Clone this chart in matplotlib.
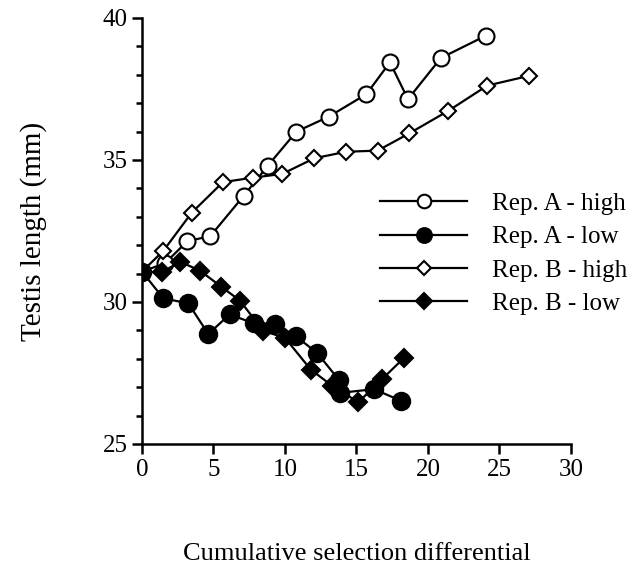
import matplotlib.pyplot as plt
from matplotlib.ticker import MultipleLocator

plt.rcParams['font.family'] = ['Liberation Serif', 'DejaVu Serif']

# Rep. A - high (open circles)
a_high_x = [0, 1.6, 3.17, 4.78, 7.1, 8.8, 10.8, 13.08, 15.7, 17.34, 18.6, 20.9, 24.06]
a_high_y = [31.07, 31.36, 32.14, 32.32, 33.73, 34.8, 36.0, 36.53, 37.32, 38.44, 37.14, 38.59, 39.38]

# Rep. A - low (filled circles)
a_low_x = [0, 1.49, 3.24, 4.64, 6.12, 7.82, 9.3, 10.74, 12.24, 13.8, 13.85, 16.22, 18.12]
a_low_y = [31.07, 30.13, 29.95, 28.87, 29.56, 29.25, 29.23, 28.8, 28.21, 27.24, 26.8, 26.93, 26.52]

# Rep. B - high (open diamonds)
b_high_x = [0, 1.49, 3.47, 5.66, 7.79, 9.81, 12.05, 14.27, 16.48, 18.7, 21.42, 24.15, 27.04]
b_high_y = [31.07, 31.8, 33.14, 34.22, 34.38, 34.51, 35.06, 35.29, 35.33, 35.94, 36.73, 37.62, 37.96]

# Rep. B - low (filled diamonds)
b_low_x = [0, 1.37, 2.66, 4.06, 5.54, 6.85, 8.48, 10.0, 11.8, 13.3, 15.13, 16.78, 18.3]
b_low_y = [31.07, 31.04, 31.42, 31.1, 30.54, 30.05, 28.98, 28.74, 27.62, 27.05, 26.47, 27.28, 28.02]

fig = plt.figure(figsize=(6.44, 5.69), dpi=100)
ax = fig.add_axes([0.2205, 0.2197, 0.6661, 0.7487])

lw = 1.6
ax.plot(a_high_x, a_high_y, color='black', lw=lw, marker='o', ms=11.5,
        mfc='white', mec='black', mew=1.5, label='Rep. A - high', zorder=3)
ax.plot(a_low_x, a_low_y, color='black', lw=lw, marker='o', ms=12.5,
        mfc='black', mec='black', mew=1.5, label='Rep. A - low', zorder=4)
ax.plot(b_high_x, b_high_y, color='black', lw=lw, marker='D', ms=8,
        mfc='white', mec='black', mew=1.5, label='Rep. B - high', zorder=3)
ax.plot(b_low_x, b_low_y, color='black', lw=lw, marker='D', ms=9,
        mfc='black', mec='black', mew=1.5, label='Rep. B - low', zorder=4)

ax.set_xlim(0, 30)
ax.set_ylim(25, 40)
ax.set_xticks(range(0, 31, 5))
ax.set_yticks(range(25, 41, 5))
ax.yaxis.set_minor_locator(MultipleLocator(1))

for s in ['top', 'right']:
    ax.spines[s].set_visible(False)
for s in ['left', 'bottom']:
    ax.spines[s].set_linewidth(1.8)

ax.tick_params(axis='both', which='major', direction='out', length=7.5,
               width=1.8, labelsize=18, pad=3)
ax.tick_params(axis='y', which='minor', direction='out', length=4.5, width=1.8)

ax.set_xlabel('Cumulative selection differential', fontsize=19, labelpad=45)
ax.set_ylabel('Testis length (mm)', fontsize=21, labelpad=40)

ax.legend(loc='upper left', bbox_to_anchor=(0.502, 0.643), frameon=False,
          fontsize=18, handlelength=3.5, handletextpad=1.0, labelspacing=0.43,
          markerscale=0.85)

fig.savefig('out.png', dpi=100)
